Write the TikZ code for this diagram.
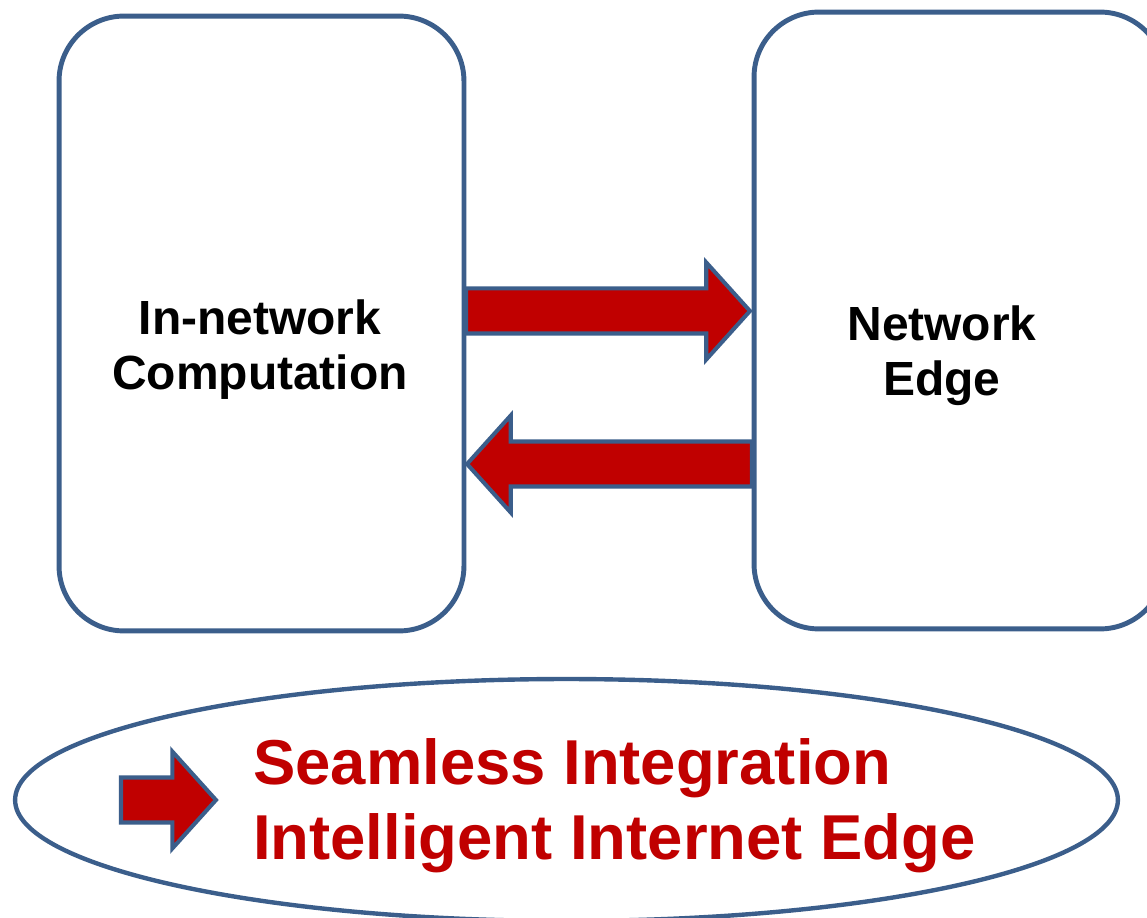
\documentclass[tikz,border=0pt]{standalone}
\usepackage{fontspec}
\setmainfont{Liberation Sans}
\usepackage{tikz}
\usetikzlibrary{shapes.geometric}
\usetikzlibrary{shapes.arrows}
\pgfdeclarelayer{boxlayer}
\pgfdeclarelayer{arrowlayer}
\pgfsetlayers{boxlayer,arrowlayer,main}
\definecolor{boxblue}{RGB}{59,94,139}
\definecolor{arrowred}{RGB}{192,0,0}
\tikzstyle{block}=[rectangle,rounded corners=1.3cm,draw=boxblue,line width=2.8pt,fill=white,inner sep=0pt]
\tikzstyle{oval}=[ellipse,draw=boxblue,line width=2.5pt,fill=white,inner sep=0pt]
\tikzstyle{fat_arrow}=[single arrow,draw=boxblue,fill=arrowred,line width=2.3pt,outer sep=0pt,inner xsep=0pt,inner ysep=0.41cm,minimum width=1.86cm,single arrow head extend=0.52cm,single arrow tip angle=96,anchor=tail]
\tikzstyle{box_text}=[font=\fontsize{27.3}{31.3}\selectfont\bfseries,align=center]
\tikzstyle{slogan}=[text=arrowred,font=\fontsize{36.1}{42.7}\selectfont\bfseries,align=left]

\begin{document}
\begin{tikzpicture}[x=0.02cm,y=-0.02cm]
	\useasboundingbox (0,0) rectangle (1147,918);
	\begin{pgfonlayer}{boxlayer}
		\node [style=block, minimum width=8.1cm, minimum height=12.3cm] (0) at (261.5, 323.5) {};
		\node [style=block, minimum width=8.22cm, minimum height=12.34cm] (1) at (959.5, 320.5) {};
		\node [style=oval, minimum width=22.06cm, minimum height=4.84cm] (4) at (566.5, 800) {};
	\end{pgfonlayer}
	\begin{pgfonlayer}{arrowlayer}
		\node [style=fat_arrow, minimum height=5.68cm] (2) at (466, 311) {};
		\node [style=fat_arrow, minimum height=5.7cm, shape border rotate=180] (3) at (752, 464) {};
		\node [style=fat_arrow, minimum height=1.9cm] (5) at (121, 800) {};
	\end{pgfonlayer}
	\node [style=box_text] (6) at (260, 350) {In-network\\Computation};
	\node [style=box_text] (7) at (942, 356) {Network\\Edge};
	\node [style=slogan, anchor=west] (8) at (247, 806) {Seamless Integration\\Intelligent Internet Edge};
\end{tikzpicture}
\end{document}
